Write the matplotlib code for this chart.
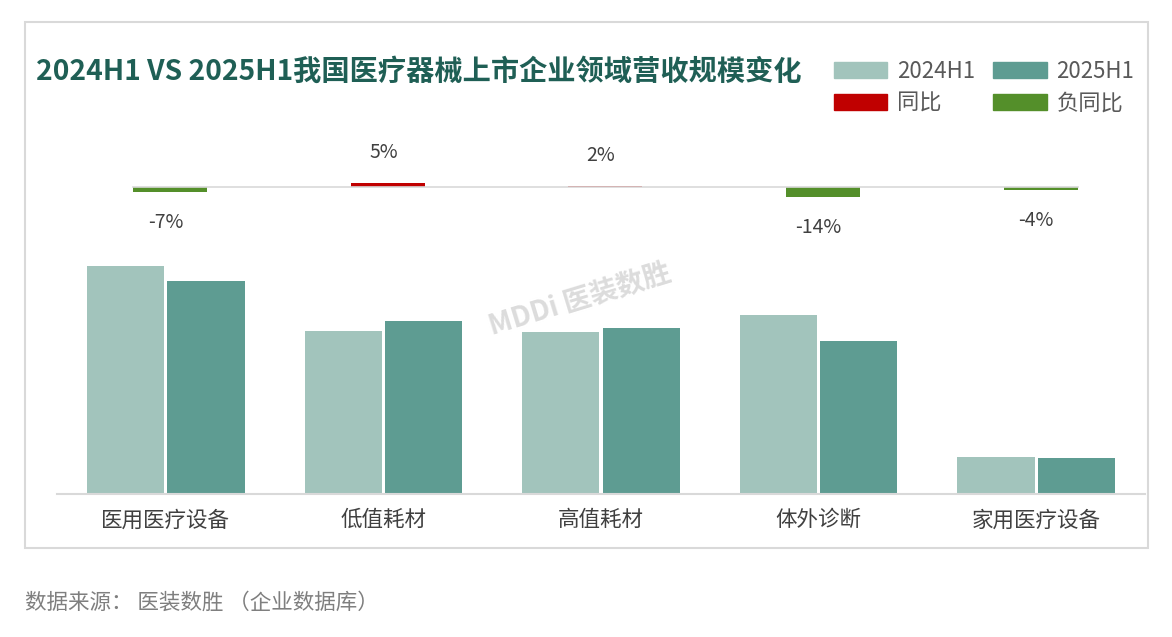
import numpy as np
import matplotlib.pyplot as plt
from matplotlib.patches import Patch, Rectangle

plt.rcParams['font.family'] = ['Noto Sans CJK SC', 'DejaVu Sans']

# 数据
categories = ['医用医疗设备', '低值耗材', '高值耗材', '体外诊断', '家用医疗设备']
rev_2024h1 = [1140, 815, 810, 895, 185]
rev_2025h1 = [1065, 865, 830, 765, 180]
yoy = [-7, 5, 2, -14, -4]

C24 = '#a2c4bc'
C25 = '#5e9c92'
RED = '#c00000'
GREEN = '#548f2a'

W, H = 1172, 637
fig = plt.figure(figsize=(W / 100, H / 100), dpi=100)

# 外框
fig.patches.append(Rectangle((25 / W, 1 - 548 / H), (1148 - 25) / W, (548 - 22) / H,
                             transform=fig.transFigure, fill=False,
                             edgecolor='#d9d9d9', linewidth=1.5))

# 主柱状图
ax = fig.add_axes([57 / W, 1 - 494 / H, (1145 - 57) / W, (494 - 260) / H])
x = np.arange(len(categories))
w = 0.355
ax.bar(x - 0.185, rev_2024h1, w, color=C24)
ax.bar(x + 0.185, rev_2025h1, w, color=C25)
ax.set_xlim(-0.5, 4.5)
ax.set_ylim(0, max(rev_2024h1) * 234 / 228)
ax.set_yticks([])
ax.set_xticks(x)
ax.set_xticklabels(categories, fontsize=15.5, color='#404040')
ax.tick_params(axis='x', length=0, pad=11)
for s in ['top', 'right', 'left']:
    ax.spines[s].set_visible(False)
ax.spines['bottom'].set_color('#d9d9d9')
ax.spines['bottom'].set_linewidth(1.5)
ax.patch.set_alpha(0)

# 同比小柱
ax2 = fig.add_axes([57 / W, 1 - 240 / H, (1145 - 57) / W, 100 / H], sharex=ax)
ax2.axis('off')
ax2.patch.set_alpha(0)
# 0 在 y=187 px，每 1% 约 0.72 px
ax2.set_ylim(-(240 - 187) / 0.72, (187 - 140) / 0.72)
ax2.plot([x[0] - 0.15, x[-1] + 0.19], [0, 0], color='#d9d9d9', lw=1.2, zorder=3)
cols = [RED if v > 0 else GREEN for v in yoy]
ax2.bar(x + 0.02, yoy, 0.34, color=cols, zorder=2)
for xi, v in zip(x, yoy):
    if v > 0:
        ax2.annotate(f'{v}%', (xi, v), xytext=(0, 22), textcoords='offset points',
                     ha='center', va='center', fontsize=14, color='#404040')
    else:
        ax2.annotate(f'{v}%', (xi, v), xytext=(0, -22), textcoords='offset points',
                     ha='center', va='center', fontsize=14, color='#404040')

# 标题
fig.text(36 / W, 1 - 72 / H, '2024H1 VS 2025H1我国医疗器械上市企业领域营收规模变化',
         fontsize=20.3, fontweight='bold', color='#1f5f55', va='center', ha='left')

# 图例
handles = [Patch(color=C24), Patch(color=C25), Patch(color=RED), Patch(color=GREEN)]
labels = ['2024H1', '2025H1', '同比', '负同比']
order = [0, 2, 1, 3]
fig.legend([handles[i] for i in order], [labels[i] for i in order], ncol=2,
           loc='upper left', bbox_to_anchor=(814 / W, 1 - 40 / H), frameon=False,
           fontsize=16, labelcolor='#595959', handlelength=2.4, handleheight=0.7,
           columnspacing=0.8, handletextpad=0.45, labelspacing=0.4)

# 水印
fig.text(580 / W, 1 - 300 / H, 'MDDi 医装数胜', fontsize=20, fontweight='bold',
         color='#dcdcdc', rotation=17, ha='center', va='center', zorder=0)

# 数据来源
fig.text(25 / W, 1 - 603 / H, '数据来源： 医装数胜 （企业数据库）', fontsize=15.5,
         color='#7f7f7f', va='center', ha='left')

fig.savefig('out.png', dpi=100)
